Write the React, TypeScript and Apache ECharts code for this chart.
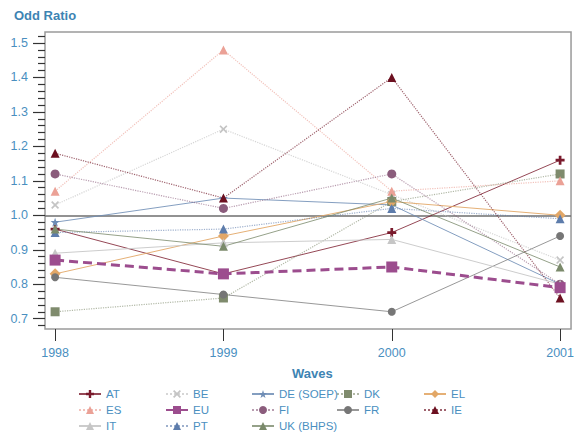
import React, { useEffect, useRef } from "react";
import * as echarts from "echarts";

const years = [1998, 1999, 2000, 2001];
const yMajorTicks = [0.7, 0.8, 0.9, 1.0, 1.1, 1.2, 1.3, 1.4, 1.5];
const yMinorTicks = [
  0.68, 0.72, 0.74, 0.76, 0.78, 0.82, 0.84, 0.86, 0.88, 0.92, 0.94, 0.96, 0.98,
  1.02, 1.04, 1.06, 1.08, 1.12, 1.14, 1.16, 1.18, 1.22, 1.24, 1.26, 1.28,
  1.32, 1.34, 1.36, 1.38, 1.42, 1.44, 1.46, 1.48, 1.52,
];

const AT = [0.96, 0.83, 0.95, 1.16];
const BE = [1.03, 1.25, 1.06, 0.87];
const DE = [0.98, 1.05, 1.03, 0.8];
const DK = [0.72, 0.76, 1.04, 1.12];
const EL = [0.83, 0.94, 1.04, 1.0];
const ES = [1.07, 1.48, 1.07, 1.1];
const EU = [0.87, 0.83, 0.85, 0.79];
const FI = [1.12, 1.02, 1.12, 0.8];
const FR = [0.82, 0.77, 0.72, 0.94];
const IE = [1.18, 1.05, 1.4, 0.76];
const IT = [0.89, 0.92, 0.93, 0.8];
const PT = [0.95, 0.96, 1.02, 0.99];
const UK = [0.96, 0.91, 1.05, 0.85];

const PLUS = "path://M3.5,0h3v3.5h3.5v3h-3.5v3.5h-3v-3.5h-3.5v-3h3.5z";
const CROSS = "path://M1.5,0L5,3.5L8.5,0L10,1.5L6.5,5L10,8.5L8.5,10L5,6.5L1.5,10L0,8.5L3.5,5L0,1.5Z";
const STAR = "path://M5,0L6.2,3.6L10,3.6L7,5.9L8.1,9.5L5,7.3L1.9,9.5L3,5.9L0,3.6L3.8,3.6Z";

type Def = {
  name: string;
  data: number[];
  color: string;
  symbol: string;
  size: number;
  line: any;
  col: number;
  row: number;
  z?: number;
};

const defs: Def[] = [
  { name: "AT", data: AT, color: "#7a1a2c", symbol: PLUS, size: 9, line: { type: "solid", width: 1, opacity: 0.8 }, col: 0, row: 0 },
  { name: "BE", data: BE, color: "#c4c4c4", symbol: CROSS, size: 8, line: { type: "dotted", width: 1.2, opacity: 0.7 }, col: 1, row: 0 },
  { name: "DE (SOEP)", data: DE, color: "#6f8db5", symbol: STAR, size: 9, line: { type: "solid", width: 1, opacity: 0.85 }, col: 2, row: 0 },
  { name: "DK", data: DK, color: "#7f8b6d", symbol: "rect", size: 9, line: { type: "dotted", width: 1.2, opacity: 0.6 }, col: 3, row: 0 },
  { name: "EL", data: EL, color: "#e2a767", symbol: "diamond", size: 11, line: { type: "solid", width: 1, opacity: 0.9 }, col: 4, row: 0 },
  { name: "ES", data: ES, color: "#eba196", symbol: "triangle", size: 9, line: { type: "dotted", width: 1.2, opacity: 0.65 }, col: 0, row: 1 },
  { name: "EU", data: EU, color: "#9c4d8e", symbol: "rect", size: 11, line: { type: [9, 5], width: 3, opacity: 1 }, col: 1, row: 1, z: 5 },
  { name: "FI", data: FI, color: "#8b5c7c", symbol: "circle", size: 9, line: { type: "dotted", width: 1.2, opacity: 0.6 }, col: 2, row: 1 },
  { name: "FR", data: FR, color: "#767676", symbol: "circle", size: 8, line: { type: "solid", width: 1, opacity: 0.75 }, col: 3, row: 1 },
  { name: "IE", data: IE, color: "#6c1020", symbol: "triangle", size: 9, line: { type: "dotted", width: 1.2, opacity: 0.65 }, col: 4, row: 1 },
  { name: "IT", data: IT, color: "#c6c6c6", symbol: "triangle", size: 9, line: { type: "solid", width: 1, opacity: 0.9 }, col: 0, row: 2 },
  { name: "PT", data: PT, color: "#5d7cab", symbol: "triangle", size: 9, line: { type: "dotted", width: 1.2, opacity: 0.6 }, col: 1, row: 2 },
  { name: "UK (BHPS)", data: UK, color: "#7b8a6b", symbol: "triangle", size: 9, line: { type: "solid", width: 1, opacity: 0.8 }, col: 2, row: 2 },
];

const colX = [105, 192, 278, 363, 450];
const rowY = [395, 411, 427];

const FONT = "'Liberation Sans', Arial, sans-serif";
const BLUE = "#4a8fbf";

export default function App() {
  const ref = useRef<HTMLDivElement>(null);
  useEffect(() => {
    if (!ref.current) return;
    const chart = echarts.init(ref.current, undefined, { renderer: "svg" });
    const series: any[] = defs.map((d, i) => ({
      name: d.name,
      type: "line",
      xAxisIndex: 0,
      yAxisIndex: 0,
      data: d.data.map((v, k) => [years[k], v]),
      symbol: d.symbol,
      symbolSize: d.size,
      showSymbol: true,
      z: d.z ?? 2,
      itemStyle: { color: d.color, borderWidth: 0 },
      lineStyle: { color: d.color, width: d.line.width, type: d.line.type, opacity: d.line.opacity },
      emphasis: { disabled: true },
      markLine:
        i === 0
          ? {
              silent: true,
              symbol: "none",
              label: { show: false },
              lineStyle: { color: "#6e6e6e", width: 1.5, type: "solid", opacity: 1 },
              data: [{ yAxis: 1.0 }],
              z: 1,
            }
          : undefined,
    }));
    const legends = defs.map((d) => ({
      data: [d.name],
      left: colX[d.col] - 27,
      top: rowY[d.row] - 7,
      itemWidth: 22,
      itemHeight: 10,
      padding: 0,
      selectedMode: false,
      textStyle: { color: BLUE, fontSize: 11.5, fontFamily: FONT },
    }));
    chart.setOption({
      animation: false,
      textStyle: { fontFamily: FONT },
      title: [
        { text: "Odd Ratio", left: 9, top: 4, textStyle: { color: "#3d84b3", fontSize: 13, fontWeight: "bold", fontFamily: FONT } },
        { text: "Waves", left: 287, top: 362, textStyle: { color: "#3d84b3", fontSize: 13, fontWeight: "bold", fontFamily: FONT } },
      ],
      legend: legends,
      grid: { left: 45, top: 32, width: 530, height: 297, show: true, borderColor: "#9a9a9a", borderWidth: 1.5, containLabel: false },
      xAxis: {
        type: "value",
        min: 1997.94,
        max: 2001.065,
        axisLine: { show: false },
        splitLine: { show: false },
        axisTick: { show: true, length: 12, lineStyle: { color: "#333" }, customValues: years },
        axisLabel: { color: BLUE, fontSize: 12.5, margin: 17, customValues: years, formatter: (v: number) => String(v) },
      },
      yAxis: [
        {
          type: "value",
          min: 0.67,
          max: 1.532,
          axisLine: { show: false },
          splitLine: { show: false },
          axisTick: { show: true, length: 12, lineStyle: { color: "#333", width: 1.2 }, customValues: yMajorTicks },
          axisLabel: { color: BLUE, fontSize: 12.5, margin: 17, customValues: yMajorTicks, formatter: (v: number) => v.toFixed(1) },
        },
        {
          type: "value",
          position: "left",
          min: 0.67,
          max: 1.532,
          axisLine: { show: false },
          splitLine: { show: false },
          axisTick: { show: true, length: 7, lineStyle: { color: "#333", width: 1.2 }, customValues: yMinorTicks },
          axisLabel: { show: false },
        },
      ],
      series,
    });
    return () => chart.dispose();
  }, []);
  return <div ref={ref} style={{ width: 577, height: 437, position: "absolute", left: 0, top: 0 }} />;
}
